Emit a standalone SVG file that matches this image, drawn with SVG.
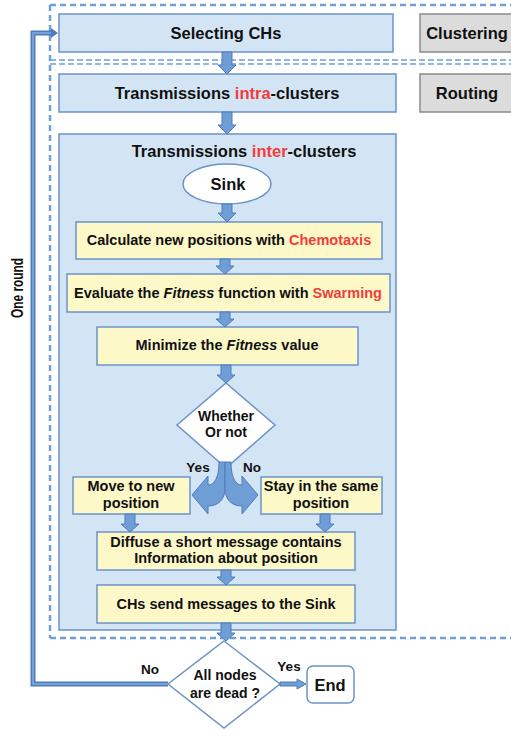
<svg xmlns="http://www.w3.org/2000/svg" width="511" height="730" viewBox="0 0 511 730">
<style>
text{font-family:"Liberation Sans",Arial,sans-serif;font-weight:bold;fill:#111;text-anchor:middle}
.big{font-size:16.5px}
.sm{font-size:14.5px}
.md{font-size:14px}
.lb{font-size:13.5px}
.red{fill:#f23c3c}
.blue{fill:#d3e5f4;stroke:#6b93c8;stroke-width:1.5}
.yel{fill:#fcf8c8;stroke:#6b93c8;stroke-width:1.5}
.gray{fill:#dcdcdc;stroke:#8a8a8a;stroke-width:1.5}
.white{fill:#fff;stroke:#6b93c8;stroke-width:1.5}
.dash{fill:none;stroke:#6e9fd8;stroke-width:2.5;stroke-dasharray:6 4}
.dash2{fill:none;stroke:#6e9fd8;stroke-width:1.6;stroke-dasharray:6 3}
.ba{fill:#6f9dd6;stroke:#4d7dbd;stroke-width:1}
</style>

<g id="frame">
<path class="dash" d="M50,5 H511 M50,5 V638 M50,638 H511"/>
<path class="dash2" d="M50,60 H511 M50,64 H511"/>
</g>

<g id="n-select"><rect class="blue" x="59" y="14" width="334" height="38"/><text class="big" x="226" y="39">Selecting CHs</text></g>
<g id="n-clustering"><rect class="gray" x="420" y="14" width="100" height="38"/><text class="big" x="467" y="39">Clustering</text></g>
<g id="n-intra"><rect class="blue" x="59" y="74" width="337" height="38"/><text class="big" x="227" y="99">Transmissions <tspan class="red">intra</tspan>-clusters</text></g>
<g id="n-routing"><rect class="gray" x="420" y="74" width="100" height="38"/><text class="big" x="467" y="99">Routing</text></g>
<g id="n-inter"><rect class="blue" x="59" y="134" width="337" height="496"/><text class="big" x="244" y="157">Transmissions <tspan class="red">inter</tspan>-clusters</text></g>
<g id="n-sink"><ellipse class="white" cx="227" cy="184" rx="44" ry="20"/><text class="big" x="228" y="190">Sink</text></g>
<g id="n-calc"><rect class="yel" x="76" y="222" width="306" height="37"/><text class="sm" x="229" y="245">Calculate new positions with <tspan class="red">Chemotaxis</tspan></text></g>
<g id="n-eval"><rect class="yel" x="67" y="274" width="323" height="38"/><text class="sm" x="228" y="298">Evaluate the <tspan font-style="italic">Fitness</tspan> function with <tspan class="red">Swarming</tspan></text></g>
<g id="n-min"><rect class="yel" x="97" y="327" width="261" height="38"/><text class="sm" x="227" y="350">Minimize the <tspan font-style="italic">Fitness</tspan> value</text></g>
<g id="n-whether"><polygon class="white" points="226,383 275,425 226,468 177,425"/><text class="md" x="226" y="421">Whether</text><text class="md" x="226" y="437">Or not</text></g>
<g id="n-move"><rect class="yel" x="73" y="477" width="117" height="37"/><text class="sm" x="131" y="491">Move to new</text><text class="sm" x="131" y="508">position</text></g>
<g id="n-stay"><rect class="yel" x="261" y="477" width="121" height="37"/><text class="sm" x="321" y="491">Stay in the same</text><text class="sm" x="321" y="508">position</text></g>
<g id="n-diffuse"><rect class="yel" x="97" y="532" width="258" height="38"/><text class="sm" x="226" y="547">Diffuse a short message contains</text><text class="sm" x="226" y="563">Information about position</text></g>
<g id="n-chs"><rect class="yel" x="97" y="585" width="258" height="38"/><text class="sm" x="226" y="609">CHs send messages to the Sink</text></g>
<g id="n-dead"><polygon class="white" points="224,641 280,684 224,728 168,684"/><text class="md" x="225" y="680">All nodes</text><text class="md" x="225" y="698">are dead ?</text></g>
<g id="n-end"><rect class="white" x="307" y="666" width="47" height="37" rx="6"/><text class="big" x="330" y="691">End</text></g>
<g id="lbl-round"><text transform="translate(23,288) rotate(-90)" font-size="17" textLength="60" lengthAdjust="spacingAndGlyphs">One round</text></g>

<g id="connectors">
<polygon class="ba" points="222,52 232,52 232,65 236,65 227,74 218,65 222,65"/>
<polygon class="ba" points="222,112 232,112 232,125 236,125 227,134 218,125 222,125"/>
<polygon class="ba" points="222,204 232,204 232,213 236,213 227,222 218,213 222,213"/>
<polygon class="ba" points="220,259 230,259 230,266 234,266 225,274 216,266 220,266"/>
<polygon class="ba" points="220,312 230,312 230,319 234,319 225,327 216,319 220,319"/>
<polygon class="ba" points="221,365 231,365 231,375 235,375 226,383 217,375 221,375"/>
<polygon class="ba" points="125,514 135,514 135,524 139,524 130,532 121,524 125,524"/>
<polygon class="ba" points="320,514 330,514 330,524 334,524 325,532 316,524 320,524"/>
<polygon class="ba" points="221,570 231,570 231,577 235,577 226,585 217,577 221,577"/>
<polygon class="ba" points="221,623 231,623 231,633 235,633 226,641 217,633 221,633"/>
<path class="ba" d="M219,462 C219,478 214,485 208,485 L208,476 L192,495 L208,514 L208,506 C218,506 225,500 225,488 L225,462 Z"/>
<path class="ba" d="M231,462 C231,478 236,485 242,485 L242,476 L258,495 L242,514 L242,506 C232,506 225,500 225,488 L225,462 Z"/>
<polygon class="ba" points="280,682 297,682 297,679 306,684 297,689 297,686 280,686"/>
<path d="M168,684 H33 V33 H52" fill="none" stroke="#4d7dbd" stroke-width="5"/>
<path d="M168,684 H33 V33 H52" fill="none" stroke="#86acdc" stroke-width="1.5"/>
<polygon points="51,28 58,33 51,38" fill="#4d7dbd"/>
<text class="lb" x="198" y="472">Yes</text>
<text class="lb" x="252" y="472">No</text>
<text class="lb" x="150" y="674">No</text>
<text class="lb" x="289" y="671">Yes</text>
</g>
</svg>
